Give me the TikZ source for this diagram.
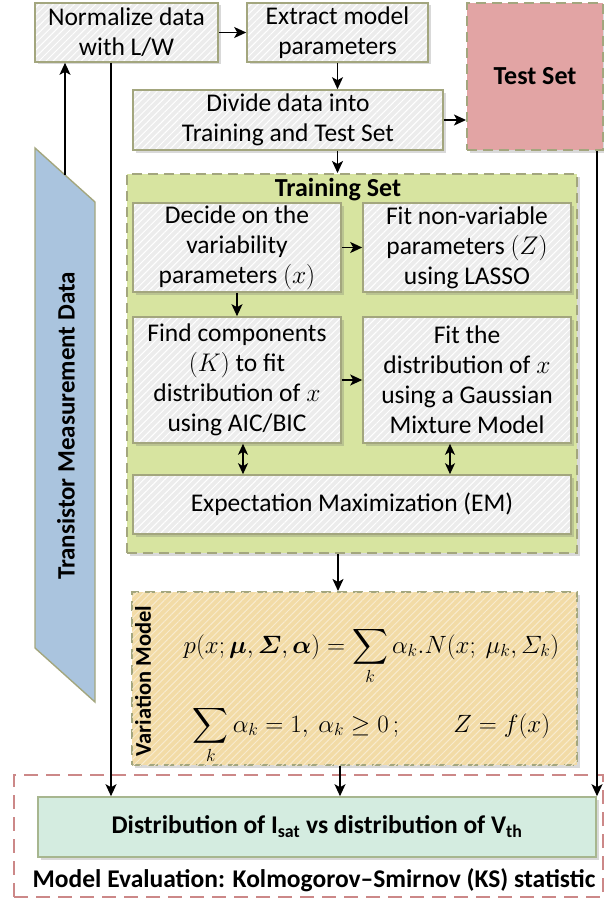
\RequirePackage{fix-cm}
\documentclass[tikz,border=0pt]{standalone}
\usepackage{amsmath}
\usepackage[no-math]{fontspec}
\setmainfont{Carlito}
\usetikzlibrary{arrows.meta,positioning,shadows,patterns.meta}
\definecolor{boxgray}{HTML}{ECECEC}
\definecolor{boxedge}{HTML}{A3A67E}
\definecolor{trainfill}{HTML}{D7E4A0}
\definecolor{varfill}{HTML}{F2DBA6}
\definecolor{testfill}{HTML}{E2A4A4}
\definecolor{datafill}{HTML}{AAC4DE}
\definecolor{distfill}{HTML}{D4ECE0}
\definecolor{distedge}{HTML}{A7B68F}
\definecolor{evalred}{HTML}{CC8888}

\begin{document}
\begin{tikzpicture}[
    x=1pt, y=-1pt,
    softshadow/.style={drop shadow={shadow xshift=2.5pt, shadow yshift=-2.5pt,
                       opacity=0.25, fill=black!60}},
    stepbox/.style={rectangle, inner sep=0pt, align=center,
                    font=\fontsize{25.5}{30}\selectfont,
                    softshadow, preaction={fill=boxgray},
                    pattern={Lines[angle=45, distance=5pt, line width=1pt]},
                    pattern color=white, draw=boxedge, line width=1.6pt},
    groupbox/.style={rectangle, inner sep=0pt, softshadow,
                     draw=boxedge, line width=2pt, dash pattern=on 10pt off 6pt},
    title/.style={font=\fontsize{26}{30}\selectfont\bfseries},
    conn/.style={-{Stealth[length=12pt, width=11pt, inset=3pt]}, line width=1.6pt},
    dconn/.style={{Stealth[length=11pt, width=10pt, inset=3pt]}-{Stealth[length=11pt, width=10pt, inset=3pt]},
                  line width=1.6pt}
  ]
  \useasboundingbox (0,0) rectangle (604,899);

  % ---- Measurement data (left banner) ----
  \draw[fill=datafill, draw=boxedge, line width=1.4pt]
    (35,148) -- (95,202) -- (95,702) -- (35,648) -- cycle;
  \coordinate (dataTop) at (65,175);
  \node[title, font=\fontsize{25}{30}\selectfont\bfseries, rotate=90]
    (dataLbl) at (66,426) {Transistor Measurement Data};

  % ---- Top row ----
  \node[stepbox, minimum width=183pt, minimum height=59pt]
    (norm) at (126.5,32.5) {Normalize data\\with L/W};
  \node[stepbox, minimum width=181pt, minimum height=59pt]
    (extract) at (337.5,32.5) {Extract model\\parameters};
  \node[stepbox, minimum width=310pt, minimum height=60pt]
    (divide) at (288,120) {Divide data into\\Training and Test Set};

  % ---- Test set ----
  \node[groupbox, fill=testfill, minimum width=136pt, minimum height=147pt,
        title] (test) at (535,76.5) {Test Set};

  % ---- Training set ----
  \node[groupbox, fill=trainfill, minimum width=450pt, minimum height=379pt]
    (train) at (352,363.5) {};
  \node[title] (trainLbl) at (338,190) {Training Set};

  \node[stepbox, minimum width=208pt, minimum height=89pt]
    (decide) at (237,247.5) {Decide on the\\variability\\parameters $(x)$};
  \node[stepbox, minimum width=208pt, minimum height=89pt]
    (lasso) at (467,247.5) {Fit non-variable\\parameters $(Z)$\\using LASSO};
  \node[stepbox, minimum width=208pt, minimum height=126pt]
    (findK) at (237,380) {Find components\\$(K)$ to fit\\distribution of $x$\\using AIC/BIC};
  \node[stepbox, minimum width=208pt, minimum height=126pt]
    (gmm) at (467,380) {Fit the\\distribution of $x$\\using a Gaussian\\Mixture Model};
  \node[stepbox, minimum width=438pt, minimum height=59pt]
    (em) at (352,504.5) {Expectation Maximization (EM)};

  % ---- Variation model ----
  \node[groupbox, fill=varfill, minimum width=445pt, minimum height=173pt,
        postaction={pattern={Lines[angle=45, distance=5pt, line width=1pt]},
                    pattern color=varfill!55!white}]
    (varmodel) at (354.5,678.5) {};
  \node[title, font=\fontsize{22.5}{26}\selectfont\bfseries, rotate=90]
    (varLbl) at (143,681) {Variation Model};
  \node[anchor=base, font=\fontsize{25}{30}\selectfont] (eqA) at (371.5,653)
    {$\displaystyle p(x;\boldsymbol{\mu},\boldsymbol{\varSigma},\boldsymbol{\alpha})
      = \sum_k \alpha_k.N(x;\ \mu_k,\varSigma_k)$};
  \node[anchor=base, font=\fontsize{25}{30}\selectfont] (eqB) at (371.5,732)
    {$\displaystyle \sum_k \alpha_k = 1,\ \alpha_k \geq 0\,;\qquad Z = f(x)$};

  % ---- Model evaluation ----
  \node[rectangle, draw=evalred, line width=2.8pt, dash pattern=on 14pt off 8pt,
        minimum width=589pt, minimum height=122pt] (eval) at (308.5,836) {};
  \node[title, font=\fontsize{25.5}{30}\selectfont\bfseries] (evalLbl) at (314,880)
    {Model Evaluation: Kolmogorov--Smirnov (KS) statistic};
  \node[rectangle, softshadow, fill=distfill, draw=distedge, line width=1.6pt,
        minimum width=558pt, minimum height=60pt, font=\fontsize{25.5}{30}\selectfont\bfseries]
    (dist) at (317,827) {Distribution of I\textsubscript{sat} vs distribution of V\textsubscript{th}};

  % ---- Connectors ----
  \draw[conn] (norm.east) -- (extract.west);
  \draw[conn] (extract.south) -- (extract.south |- divide.north);
  \draw[conn] (divide.east) -- (divide.east -| test.west);
  \draw[conn] (extract.south |- divide.south) -- (extract.south |- train.north);
  \draw[conn] (dataTop) -- (dataTop |- norm.south);
  \draw[conn] ([xshift=-15.5pt]norm.south) -- ([xshift=-15.5pt]norm.south |- dist.north);
  \draw[conn] ([xshift=-7pt]test.south east) -- ([xshift=-7pt]test.south east |- dist.north);

  \draw[conn] (decide.east) -- (lasso.west);
  \draw[conn] (decide.south) -- (findK.north);
  \draw[conn] (findK.east) -- (gmm.west);
  \draw[dconn] ([xshift=6pt]findK.south) -- ([xshift=6pt]findK.south |- em.north);
  \draw[dconn] ([xshift=-17pt]gmm.south) -- ([xshift=-17pt]gmm.south |- em.north);

  \draw[conn] ([xshift=-14pt]train.south) -- ([xshift=-14pt]train.south |- varmodel.north);
  \draw[conn] ([xshift=-14.5pt]varmodel.south) -- ([xshift=-14.5pt]varmodel.south |- dist.north);

\end{tikzpicture}
\end{document}
